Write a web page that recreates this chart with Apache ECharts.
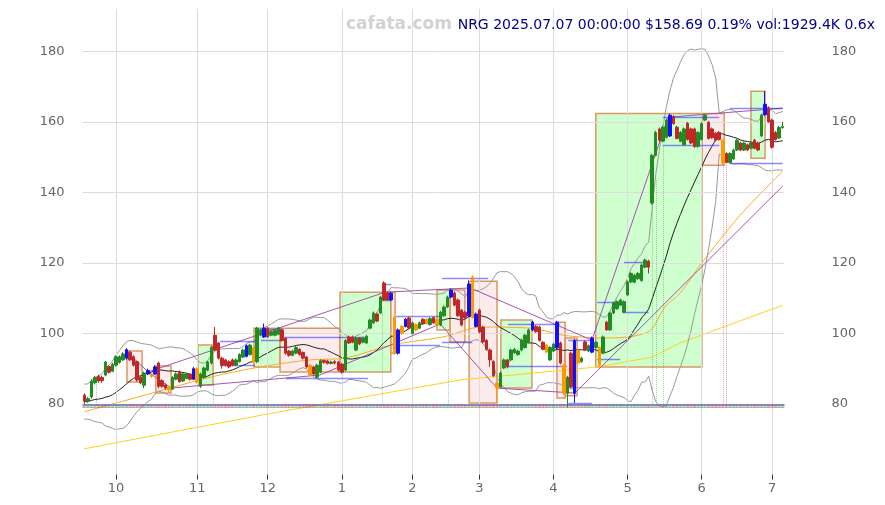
<!DOCTYPE html>
<html><head><meta charset="utf-8">
<script src="https://cdn.jsdelivr.net/npm/echarts@6/dist/echarts.min.js"></script>
<style>html,body{margin:0;padding:0;background:#fff}#c{width:885px;height:505px}</style>
</head><body><div id="c"></div>
<script>
// ---- calendar (trading days) ----
const holidays = ['2024-11-28','2024-12-25','2025-01-01','2025-01-09','2025-01-20','2025-02-17','2025-04-18','2025-05-26','2025-06-19','2025-07-04'];
function buildDays(){
  const out=[]; const d=new Date(Date.UTC(2024,8,18)); const end=Date.UTC(2025,6,7);
  while(d.getTime()<=end){ const wd=d.getUTCDay(); const s=d.toISOString().slice(0,10);
    if(wd!==0&&wd!==6&&holidays.indexOf(s)<0) out.push(s); d.setUTCDate(d.getUTCDate()+1);} return out;
}
const categories = buildDays();

// ---- OHLC ----
const opens = [
82.5,80.8,82,86,87.8,87.5,88.2,90.6,89.3,
91,91.8,92.5,93,94.7,93.4,92,87.6,85.3,88.5,
88.6,88.5,91.6,86.6,85.4,84.8,84.2,87,89.1,86.5,
87.2,88.5,87,86.2,85,87.5,89.6,91.6,99.5,97.3,
93,92.5,92,92.5,91,92,93.3,93.5,94,96,
92,99.5,99,101.5,99.5,99.5,99.8,101,98.7,95,
93.8,94.4,95.5,94.6,93.3,91,90.5,87.6,89,92.3,
92.2,91.5,92,91.9,91.3,89.6,99,99,95.3,98.7,
97.5,97.3,101.5,103,105.5,105.8,114.3,111.5,111.4,104.6,
94.4,102,104,104.4,100,102.5,101.5,104,104,102.5,
104.5,104,102.4,105,107.5,110.3,111.5,109.5,106.6,106,
105,116,102,106.6,101.8,98,95.3,92,86,84.8,
90.2,92.5,92.5,94.5,94,95.3,96,97.6,101,102,
101.8,97.5,96.7,92.5,95,95.9,97.3,91,83,94.4,
83,95.3,92,97.6,95,94.7,96,96,94.4,103.2,
101,105.8,107,108,106,110.9,114.6,114.5,115.5,115,
118.8,120.5,137,150.5,158,154.5,155.6,156,161.5,158.5,
154.5,153.5,159.6,158,158,153,155,160.5,159.9,158,
156.8,157,154.8,151,148.5,149.5,152,154,152,153.5,
152.5,154.8,154,156,162,164,160.5,157,155.4,158.4];
const closes = [
80.8,81.5,86.5,87.5,86.5,86.6,91.9,89,91.2,
93.4,93.4,94.2,95.4,92.5,91,86.8,86,88.8,89.5,
87.8,90.5,85,85,84.5,84,87.5,88.5,86.3,88.5,
88.5,87,90,90,88.5,90.2,91.9,96.1,95.3,93,
91,91,90.5,91,92.5,94,95.3,96.5,96.7,92,
101.5,101,101.5,99,100.5,100.8,101.5,98,94.4,93.8,
95,96,94,93,90.5,88.2,88.5,91,92.3,91.8,
91.5,91.9,91.6,89.6,89,98,97.3,97.5,98.7,97,
98.7,99.2,103.8,105.8,103.5,110.3,109.5,109.5,109.5,94.4,
101,100,102,101.5,103,101,103,102.8,102.8,104.2,
103,102.5,106,107.5,110.3,112.3,108,105,102.4,104.5,
114,104.5,105.5,100.4,97.6,95.5,92.5,88,84.5,88.8,
92.5,90.5,95.3,95.5,95,98.1,99.5,101,103.2,100.5,
98,95.5,94.7,96,97,103.2,91.6,83,87.6,84.8,
98,91.6,93,95.3,96.5,98.7,97.5,91,99,101,
105.8,108.6,109,109.5,109,114.6,117,116.5,117,119.4,
120.8,118.8,150.5,157,154.8,158.5,160.5,161.9,159.5,155.3,
157,158,155,154,153,157,159.5,161.9,155.3,155.5,
154.8,155,148.3,148.5,151,152,154.8,152,154,152,
154,152.5,152,161.9,165,160,152.8,155,158.4,158.69];
const highs = [
83,82,87,88,88.3,88,92.2,91,91.6,
93.8,93.8,94.7,95.8,95.1,93.8,92.3,88,89.2,90,
89,91,92,87,85.8,85.3,87.9,89,89.5,88.9,
88.9,88.8,90.5,90.4,88.9,90.6,92.3,96.5,101.8,97.6,
93.4,92.8,92.4,92.9,92.9,94.4,95.7,96.9,97.1,96.4,
101.9,101.4,102.8,101.9,100.9,101.2,101.9,101.4,99,95.3,
95.4,96.4,95.8,94.9,93.6,91.3,90.8,91.4,92.7,92.6,
92.5,92.3,92.4,92.2,91.6,98.4,99.4,99.4,99.1,99,
99.1,99.6,104.2,106.2,105.9,110.7,114.8,111.9,111.8,105,
101.4,102.4,104.4,104.8,103.4,102.9,103.4,104.4,104.3,104.6,
104.8,104.4,106.4,107.9,110.7,112.7,111.9,109.9,106.9,106.4,
115,116.5,105.9,107,102.2,98.4,95.7,92.4,86.4,89.2,
92.9,92.8,95.7,95.9,95.4,98.5,99.9,101.4,103.6,102.4,
102.2,97.8,97,96.4,97.4,103.6,97.7,91.4,88,94.8,
98.4,95.7,93.4,98,96.9,99.1,97.9,96.4,99.4,103.6,
106.2,109,109.4,109.9,109.4,115,117.4,116.9,117.4,119.8,
121.2,120.9,151,157.5,158.4,158.9,160.9,162.3,161.9,158.9,
157.4,158.4,160,158.4,158.4,157.4,159.9,162.3,160.3,158.4,
157.2,157.4,155.2,151.4,151.4,152.4,155.2,154.4,154.4,153.9,
154.4,155.2,154.4,162.3,168.7,164.4,160.9,157.4,158.9,160];
const lows = [
80,80.3,81.5,85.5,86,86,87.8,88.6,89,
90.6,91.4,92.2,92.6,92.2,90.6,86.3,85.6,84.5,88.2,
87.4,88.2,84.5,84.6,84,83.2,84,86.7,86,86.2,
87,86.6,86.8,85.8,84.5,87.2,89.3,91.2,95,92.6,
90,90.6,90.1,90.7,90.7,91.7,93,93.2,93.7,91.6,
91.6,99.2,98.7,98.7,99.2,99.2,99.5,97.7,94,93.4,
93.5,94.1,93.7,92.6,90.1,87.8,88.1,87.3,88.7,91.4,
91.2,91.2,91.2,89.2,88.6,89.3,97,97.2,95,96.7,
97.2,97,101.2,102.7,103.2,105.5,109.2,109.2,109.2,94,
94,99.6,101.7,101.2,99.7,100.6,101.2,102.5,102.5,102.2,
102.7,102.2,102.1,104.7,107.2,110,107.7,104.7,102,104.2,
104.6,104.2,101.7,100,97.2,95.1,90.5,87.6,80.5,84.5,
89.9,90.1,92.2,94.2,93.7,95,95.7,97.3,100.7,100.2,
97.7,95.2,94.4,92.2,94.7,95.5,91.2,82.6,79,84.4,
80.3,91.2,91.7,95,94.7,94.4,95.7,90.6,94.1,100.7,
100.7,105.5,106.7,107.7,105.7,110.6,114.3,114.2,115.2,114.7,
118.5,117,136.5,150.2,154.4,154.2,155.3,155.7,159.2,155,
154.2,153.2,154.7,153.7,152.6,152.7,154.7,160.2,155,155.2,
154.5,154.7,147.9,148.2,148.2,149.2,151.7,151.7,151.7,151.7,
152.2,152.2,151.7,155.7,161.7,159.7,152.4,154.7,155.1,158];
const blueCandles = [12,18,20,31,46,51,87,89,91,104,109,111,127,134,139,144,166,193];
const orangeCandles = [19,24,32,48,64,88,90,94,97,100,110,117,131,136,140,146,181];
// closes before the first visible day (indicator warm-up)
const warmupCloses = [80,81,82,84,83,85,84,82,80,78,79,77,76,77,78,80,81,82,83];

// ---- overlay lines: [dayIndex, price] ----
const ma50Knots = [[0,77.8],[12.1,81.1],[24.3,84.5],[35.7,87.6],[49.8,90.5],[64,92.5],[73.9,93],[86.9,96.7],[101.7,99],[112.5,101.8],[126.7,101.5],[135.7,99.5],[146.8,98.7],[159.8,100.4],[164.6,107.5],[168.9,111.4],[174.6,119.4],[185.9,133.5],[198,146]];
const ma200Knots = [[0,67.3],[52.7,77.3],[106.5,86.8],[145.6,90.5],[161,93.3],[168.9,97.3],[198,108]];
const trendSegments = [
 [[12.1,94.7],[18.1,89.1]],[[18.1,89.1],[24.6,84.5]],[[18.1,89.1],[85.3,111.7]],
 [[85.3,111.7],[109.4,112.9]],[[109.4,112.9],[143.9,98.1]],[[143.9,98.1],[165.5,161.3]],
 [[165.5,161.3],[198,163.9]],[[24.6,84.5],[66.8,88.2]],[[66.8,88.2],[100.9,102.7]],
 [[100.9,102.7],[117,84.5]],[[117,84.5],[139.1,83.1]],[[139.1,83.1],[198,141.8]]];
// zones: [startIdx, endIdx, low, high, up(1)/down(0)]
const zones = [
 [12.1,16.4,86.2,95.0,0],[20.3,24.6,83.1,90.8,0],[32.2,36.5,85.4,96.7,1],[48.1,55.5,90.5,101.5,1],
 [55.5,72.5,89.1,101.5,0],[72.5,86.9,89.1,111.7,1],[86.9,88.1,94.4,111.7,0],[100,103.7,101,112.3,1],
 [103.7,107.9,97.6,112.3,0],[109.1,117,80.3,114.8,0],[118.1,126.9,84.5,103.8,1],[134,136.3,81.7,103.2,0],
 [136.3,139.7,82.3,98.7,0],[145,175.1,90.5,162.4,1],[175.1,181.4,147.7,162.4,0],[189,193,149.7,168.7,1]];
// horizontal levels: [startIdx, endIdx, price]
const levels = [
 [38.5,48.4,97.8],[38.5,48.4,91.0],[50.1,56.3,101.2],[50.1,56.3,98.1],[57.2,80.4,99.0],[57.2,80.4,87.4],
 [84.7,87,114.0],[84.7,87,109.5],[88.4,100.9,104.9],[88.4,100.9,96.7],[101.4,114.5,115.7],[101.4,110,97.6],
 [118.4,120.7,92.2],[120.1,134.9,102.7],[120.1,136.9,90.8],[137.2,143.9,98.1],[137.2,143.9,80.3],
 [145.4,151.9,108.9],[145.4,151.9,92.7],[153,160,120.2],[153,160,106.1],[164,180,161.3],[164,180,153.4],
 [183,198,163.9],[183,198,148.3]];
// vertical dotted markers: [idx, topPrice, kind]
const markers = [[3.3,86.8,'g'],[36.5,85.4,'g'],[49.2,90.5,'g'],[84.4,106,'g'],[103.1,101,'g'],
 [161,137,'g'],[162.1,143.5,'g'],[164.1,153.4,'g'],[181.1,147.7,'r'],[181.9,147.7,'r']];
const yTicks = [80,100,120,140,160,180];
const headline = 'NRG 2025.07.07 00:00:00 $158.69 0.19% vol:1929.4K 0.6x';
const watermark = 'cafata.com';

// ---- derived ----
const N = categories.length;
const allCloses = warmupCloses.concat(closes);
const W = warmupCloses.length;
const ma20=[], bu=[], bl=[];
for(let i=0;i<N;i++){
  const win = allCloses.slice(Math.max(0,i+W-19), i+W+1);
  const m = win.reduce((a,b)=>a+b,0)/win.length;
  const sd = Math.sqrt(win.reduce((a,b)=>a+(b-m)*(b-m),0)/win.length);
  ma20.push(+m.toFixed(3)); bu.push(+(m+2*sd).toFixed(3)); bl.push(+(m-2*sd).toFixed(3));
}
const monthStarts=[];
for(let i=1;i<N;i++){ if(categories[i].slice(5,7)!==categories[i-1].slice(5,7)) monthStarts.push(i); }
const isMonthStart = (i)=> monthStarts.indexOf(i)>=0;

const GREEN='#228b22', RED='#c02828';
const candleData = categories.map((d,i)=>{
  const item = {value:[opens[i],closes[i],lows[i],highs[i]]};
  let col=null;
  if(blueCandles.indexOf(i)>=0) col='#1010ff';
  if(orangeCandles.indexOf(i)>=0) col='#ff9900';
  if(col) item.itemStyle={color:col,color0:col,borderColor:col,borderColor0:col};
  return item;
});
const volMarks = categories.map((d,i)=>({value:[i,79.35], itemStyle:{color: closes[i]>=opens[i]?'rgba(34,139,34,0.45)':'rgba(192,40,40,0.45)'}}));

const chart = echarts.init(document.getElementById('c'), null, {renderer:'canvas'});
const lab = {color:'#666', fontSize:13, fontFamily:'DejaVu Sans'};
chart.setOption({
  animation:false,
  backgroundColor:'#fff',
  grid:{left:82.5, right:100.5, top:9, bottom:30.5},
  xAxis:[
    {type:'category', data:categories, boundaryGap:true,
     axisLine:{show:false},
     axisTick:{show:true, alignWithLabel:true, interval:(i)=>isMonthStart(i), length:5, inside:false, lineStyle:{color:'#333', width:1}},
     axisLabel:Object.assign({interval:(i)=>isMonthStart(i), margin:8, formatter:(v)=>String(+v.slice(5,7))}, lab),
     splitLine:{show:false}},
    {type:'value', min:-0.5, max:N-0.5, show:false}
  ],
  yAxis:[
    {type:'value', min:60, max:192, interval:20, position:'left',
     axisLine:{show:false}, axisTick:{show:false}, splitLine:{show:false},
     axisLabel:Object.assign({margin:18, showMinLabel:false, showMaxLabel:false}, lab)},
    {type:'value', min:60, max:192, interval:20, position:'right',
     axisLine:{show:false}, axisTick:{show:false}, splitLine:{show:false},
     axisLabel:Object.assign({margin:47, showMinLabel:false, showMaxLabel:false, align:'left'}, lab)}
  ],
  graphic:[
    {type:'text', left:346, top:16, z:100, style:{text:watermark, fill:'#d2d2d2', font:'bold 17px "DejaVu Sans"'}},
    {type:'text', right:10, top:18, z:100, style:{text:headline, fill:'#000088', font:'14px "DejaVu Sans"'}}
  ],
  series:[
    {type:'line', xAxisIndex:1, yAxisIndex:0, data:[], z:0, silent:true,
     markLine:{silent:true, symbol:'none', label:{show:false}, animation:false,
       lineStyle:{color:'#dcdcdc', type:'solid', width:1},
       data: yTicks.map(v=>({yAxis:v})).concat(monthStarts.map(i=>({xAxis:i})))}},
    {type:'custom', xAxisIndex:1, yAxisIndex:0, z:1, silent:true,
     encode:{x:[0,1], y:[2,3]},
     data:zones,
     renderItem:(params, api)=>{
       const p0 = api.coord([api.value(0), api.value(3)]);
       const p1 = api.coord([api.value(1), api.value(2)]);
       const up = api.value(4)===1;
       return {type:'rect', shape:{x:p0[0], y:p0[1], width:p1[0]-p0[0], height:p1[1]-p0[1]},
         style:{fill: up?'rgba(160,255,160,0.5)':'rgba(250,215,215,0.5)', stroke:'#d89a64', lineWidth:1.5}};
     }},
    {type:'line', xAxisIndex:1, yAxisIndex:0, data:ma200Knots, symbol:'none', z:3, silent:true,
     lineStyle:{color:'#ffd21a', width:1}},
    {type:'line', xAxisIndex:1, yAxisIndex:0, data:ma50Knots, symbol:'none', z:3, silent:true, smooth:0.3,
     lineStyle:{color:'#ffaa22', width:1}},
    {type:'line', data:bu, symbol:'none', z:3, silent:true, lineStyle:{color:'#999', width:1}},
    {type:'line', data:bl, symbol:'none', z:3, silent:true, lineStyle:{color:'#999', width:1}},
    {type:'line', data:ma20, symbol:'none', z:4, silent:true, lineStyle:{color:'#222', width:1}},
    {type:'lines', coordinateSystem:'cartesian2d', xAxisIndex:1, yAxisIndex:0, z:5, silent:true,
     data: trendSegments.map(s=>({coords:s})), lineStyle:{color:'#a040a8', width:1, opacity:0.9}},
    {type:'lines', coordinateSystem:'cartesian2d', xAxisIndex:1, yAxisIndex:0, z:5, silent:true,
     data: markers.map(m=>({coords:[[m[0],m[1]],[m[0],79.7]], lineStyle:{color: m[2]==='g'?'#44aa44':'#dd4444'}})),
     lineStyle:{type:'dotted', width:1}},
    {type:'lines', coordinateSystem:'cartesian2d', xAxisIndex:1, yAxisIndex:0, z:6, silent:true,
     data: levels.map(l=>({coords:[[l[0],l[2]],[l[1],l[2]]]})), lineStyle:{color:'#1a1aff', width:1.3}},
    {type:'lines', coordinateSystem:'cartesian2d', xAxisIndex:1, yAxisIndex:0, z:6, silent:true,
     data:[{coords:[[-0.5,79.75],[N-0.5,79.75]], lineStyle:{color:'#3a3ac8', width:2.2}},
           {coords:[[-0.5,79.15],[N-0.5,79.15]], lineStyle:{color:'#999', width:1.2}}]},
    {type:'scatter', data:volMarks, symbol:'rect', symbolSize:[3,3], z:7, silent:true},
    {type:'candlestick', data:candleData, barWidth:3, z:10, silent:true,
     itemStyle:{color:GREEN, color0:RED, borderColor:GREEN, borderColor0:RED, borderWidth:1}}
  ]
});
</script></body></html>
